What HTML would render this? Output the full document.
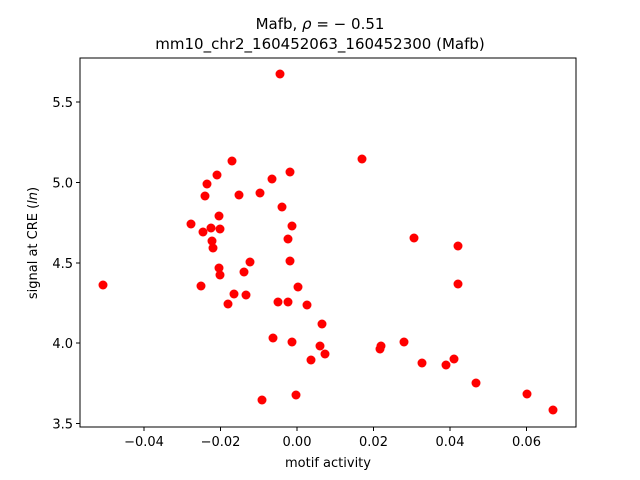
<!DOCTYPE html>
<html><head><meta charset="utf-8"><style>body{margin:0;background:#fff}svg{display:block}text{font-family:"DejaVu Sans","Liberation Sans",sans-serif;fill:#000}</style></head>
<body>
<svg width="640" height="480" xmlns="http://www.w3.org/2000/svg">
<rect width="640" height="480" fill="#fff"/>
<text x="320" y="29" font-size="15" text-anchor="middle">Mafb, <tspan font-style="italic">ρ</tspan> = − 0.51</text>
<text x="320" y="49" font-size="15" text-anchor="middle">mm10_chr2_160452063_160452300 (Mafb)</text>
<g fill="#ff0000">
<circle cx="280" cy="74" r="4.5"/><circle cx="362" cy="159" r="4.5"/><circle cx="232" cy="161" r="4.5"/><circle cx="290" cy="172" r="4.5"/><circle cx="217" cy="175" r="4.5"/><circle cx="272" cy="179" r="4.5"/><circle cx="207" cy="184" r="4.5"/><circle cx="239" cy="195" r="4.5"/><circle cx="260" cy="193" r="4.5"/><circle cx="205" cy="196" r="4.5"/><circle cx="282" cy="207" r="4.5"/><circle cx="219" cy="216" r="4.5"/><circle cx="191" cy="224" r="4.5"/><circle cx="292" cy="226" r="4.5"/><circle cx="203" cy="232" r="4.5"/><circle cx="211" cy="228" r="4.5"/><circle cx="220" cy="229" r="4.5"/><circle cx="288" cy="239" r="4.5"/><circle cx="212" cy="241" r="4.5"/><circle cx="213" cy="248" r="4.5"/><circle cx="414" cy="238" r="4.5"/><circle cx="458" cy="246" r="4.5"/><circle cx="290" cy="261" r="4.5"/><circle cx="250" cy="262" r="4.5"/><circle cx="298" cy="287" r="4.5"/><circle cx="219" cy="268" r="4.5"/><circle cx="244" cy="272" r="4.5"/><circle cx="220" cy="275" r="4.5"/><circle cx="103" cy="285" r="4.5"/><circle cx="201" cy="286" r="4.5"/><circle cx="234" cy="294" r="4.5"/><circle cx="246" cy="295" r="4.5"/><circle cx="458" cy="284" r="4.5"/><circle cx="228" cy="304" r="4.5"/><circle cx="278" cy="302" r="4.5"/><circle cx="288" cy="302" r="4.5"/><circle cx="307" cy="305" r="4.5"/><circle cx="322" cy="324" r="4.5"/><circle cx="273" cy="338" r="4.5"/><circle cx="292" cy="342" r="4.5"/><circle cx="320" cy="346" r="4.5"/><circle cx="404" cy="342" r="4.5"/><circle cx="381" cy="346" r="4.5"/><circle cx="380" cy="349" r="4.5"/><circle cx="325" cy="354" r="4.5"/><circle cx="311" cy="360" r="4.5"/><circle cx="422" cy="363" r="4.5"/><circle cx="454" cy="359" r="4.5"/><circle cx="446" cy="365" r="4.5"/><circle cx="476" cy="383" r="4.5"/><circle cx="527" cy="394" r="4.5"/><circle cx="553" cy="410" r="4.5"/><circle cx="262" cy="400" r="4.5"/><circle cx="296" cy="395" r="4.5"/>
</g>
<rect x="80" y="58" width="496" height="369" fill="none" stroke="#000" stroke-width="1"/>
<g stroke="#000" stroke-width="1">
<line x1="144" y1="427" x2="144" y2="431"/><line x1="220.5" y1="427" x2="220.5" y2="431"/><line x1="297" y1="427" x2="297" y2="431"/><line x1="373.5" y1="427" x2="373.5" y2="431"/><line x1="450" y1="427" x2="450" y2="431"/><line x1="526.5" y1="427" x2="526.5" y2="431"/>
<line x1="76" y1="102" x2="80" y2="102"/><line x1="76" y1="182.5" x2="80" y2="182.5"/><line x1="76" y1="263" x2="80" y2="263"/><line x1="76" y1="343" x2="80" y2="343"/><line x1="76" y1="423.5" x2="80" y2="423.5"/>
</g>
<g font-size="13" text-anchor="middle">
<text x="144" y="446">−0.04</text><text x="220.5" y="446">−0.02</text><text x="297" y="446">0.00</text><text x="373.5" y="446">0.02</text><text x="450" y="446">0.04</text><text x="526.5" y="446">0.06</text>
</g>
<g font-size="13" text-anchor="end">
<text x="73" y="107">5.5</text><text x="73" y="187.5">5.0</text><text x="73" y="268">4.5</text><text x="73" y="348">4.0</text><text x="73" y="428.5">3.5</text>
</g>
<text x="328" y="467" font-size="13" text-anchor="middle">motif activity</text>
<text transform="translate(37,243) rotate(-90)" font-size="13" text-anchor="middle">signal at CRE (<tspan font-style="italic">ln</tspan>)</text>
</svg>
</body></html>
